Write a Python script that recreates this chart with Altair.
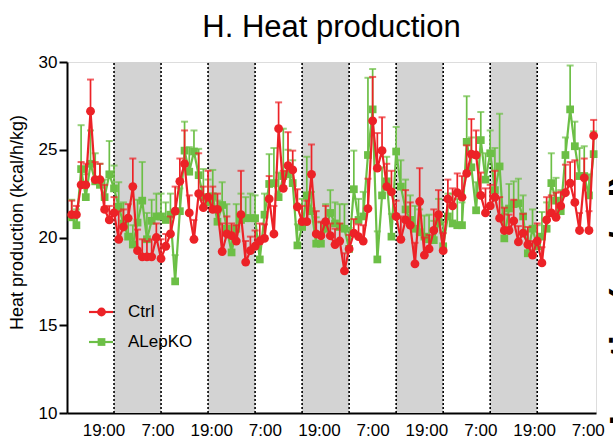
import json
import altair as alt
import pandas as pd

# Sampling interval of the calorimetry readings (hours); first reading at 08:12
step_hours = 1.2

# Heat production (kcal/h/kg): group means and upper SEM, one value per reading
ctrl_mean = [
    21.3, 21.3, 23.0, 23.0, 27.2, 23.3, 23.3, 21.6, 21.0, 21.4,
    19.9, 20.6, 21.1, 22.9, 19.25, 18.9, 18.9, 18.9, 20.0, 18.8,
    19.5, 20.2, 21.5, 23.2, 24.2, 21.4, 19.9, 22.5, 21.7, 22.3,
    21.6, 21.6, 19.2, 20.2, 20.1, 19.8, 21.3, 18.6, 19.25, 19.5,
    19.8, 19.95, 22.2, 20.2, 26.2, 22.8, 24.1, 23.85, 21.75, 20.9,
    20.9, 23.6, 20.2, 20.1, 20.9, 20.1, 19.6, 19.8, 18.1, 19.35,
    20.25, 20.05, 19.8, 21.65, 26.65, 23.95, 24.95, 22.9, 22.6, 21.2,
    19.9, 21.0, 20.7, 18.5, 22.05, 19.0, 19.35, 20.4, 21.3, 19.25,
    22.2, 21.8, 22.55, 22.3, 23.65, 24.75, 24.7, 22.4, 21.4, 21.8,
    22.3, 21.1, 20.4, 20.4, 20.95, 19.75, 20.25, 19.6, 19.0, 19.8,
    18.55, 21.0, 21.4, 21.15, 21.8, 22.55, 23.1, 22.0, 20.4, 23.4,
    20.4, 25.8,
]
ctrl_sem = [
    0.8, 0.5, 1.3, 1.2, 1.8, 1.0, 0.9, 1.4, 0.8, 0.9,
    1.6, 1.0, 0.8, 1.6, 1.2, 1.0, 0.9, 1.0, 0.8, 1.1,
    0.7, 1.0, 1.4, 1.3, 1.9, 1.0, 1.1, 2.3, 1.2, 1.5,
    1.3, 0.9, 1.6, 1.0, 0.7, 0.9, 2.5, 1.2, 0.8, 0.9,
    1.0, 0.8, 1.3, 1.6, 1.5, 1.0, 1.9, 1.1, 1.0, 0.9,
    1.2, 1.7, 1.3, 0.8, 0.9, 0.7, 0.9, 1.0, 1.0, 0.8,
    0.8, 0.7, 0.9, 1.7, 2.5, 2.0, 1.9, 1.3, 1.2, 0.9,
    1.3, 1.7, 1.3, 1.2, 1.9, 1.0, 0.8, 1.2, 1.4, 1.0,
    1.1, 1.0, 1.1, 1.2, 1.6, 2.0, 1.4, 1.3, 1.4, 1.2,
    1.5, 1.2, 1.3, 0.9, 1.2, 0.9, 1.1, 1.0, 0.8, 1.0,
    0.9, 1.3, 1.0, 1.4, 0.8, 1.6, 1.2, 2.4, 1.0, 1.1,
    1.1, 0.9,
]
ko_mean = [
    21.15, 20.7, 23.9, 22.3, 24.2, 23.2, 23.0, 22.3, 23.6, 22.8,
    21.75, 20.8, 20.05, 19.6, 20.85, 22.1, 19.9, 20.95, 21.2, 21.2,
    21.0, 21.3, 17.5, 21.5, 24.95, 23.75, 24.9, 23.55, 22.3, 22.0,
    22.35, 20.9, 21.85, 20.5, 19.15, 20.5, 21.0, 21.1, 21.1, 21.1,
    18.75, 21.3, 23.05, 23.1, 22.3, 23.5, 23.6, 23.1, 19.55, 20.6,
    22.4, 21.5, 19.65, 19.65, 20.5, 21.4, 20.8, 20.6, 20.5, 19.35,
    22.75, 21.0, 21.2, 24.7, 27.3, 18.75, 22.4, 23.2, 20.05, 24.9,
    22.9, 21.6, 21.0, 20.5, 20.3, 20.05, 19.9, 19.85, 20.9, 19.5,
    21.2, 20.8, 20.7, 20.7, 25.45, 24.0, 21.55, 25.55, 23.3, 24.8,
    22.7, 24.05, 19.95, 21.65, 21.9, 21.95, 21.2, 19.1, 20.5, 19.5,
    20.05, 20.5, 23.1, 22.1, 21.5, 24.7, 27.3, 25.2, 23.5, 23.5,
    22.4, 24.75,
]
ko_sem = [
    1.0, 0.9, 2.5, 1.3, 1.9, 1.6, 1.2, 1.0, 1.9, 1.3,
    1.4, 1.2, 1.0, 1.1, 1.3, 2.2, 1.5, 1.2, 1.3, 1.3,
    1.0, 1.2, 1.5, 1.3, 1.65, 1.4, 1.2, 1.5, 1.6, 1.3,
    1.5, 1.2, 1.3, 1.4, 1.1, 1.4, 1.5, 1.2, 1.4, 1.3,
    1.3, 1.2, 1.7, 2.0, 1.4, 2.7, 1.4, 1.3, 1.2, 1.6,
    2.2, 1.1, 1.5, 1.2, 1.4, 1.3, 1.2, 1.3, 1.4, 1.2,
    2.2, 1.2, 1.4, 4.4, 2.3, 1.6, 1.6, 1.4, 1.3, 1.4,
    1.5, 1.7, 1.4, 1.3, 1.3, 1.2, 1.4, 1.1, 1.3, 1.4,
    1.3, 1.7, 1.5, 1.3, 2.6, 1.7, 1.6, 1.6, 1.5, 1.3,
    2.4, 3.0, 1.4, 1.4, 1.3, 1.4, 1.2, 1.3, 1.1, 1.2,
    1.4, 1.5, 1.7, 1.3, 1.2, 1.0, 2.5, 1.4, 1.6, 1.7,
    1.2, 1.3,
]

# Dark phases (hours from 07:00 on day 1)
night_start = [12, 36, 60, 84, 108]
night_end = [24, 48, 72, 96, 120]

# Clock-time labels along the time axis
label_hours = [9.3, 23.1, 36.8, 50.5, 64.3, 78.0, 91.7, 105.5, 119.2, 132.9]
label_text = ["19:00", "7:00", "19:00", "7:00", "19:00",
              "7:00", "19:00", "7:00", "19:00", "7:00"]

groups = ["Ctrl", "ALepKO"]
colors = ["#EC2227", "#6CBF46"]
shapes = ["circle", "square"]
y_ticks = [10, 15, 20, 25, 30]

W, H = 529, 351
FONT = "Liberation Sans"

hours = [round(step_hours * (i + 1), 2) for i in range(len(ctrl_mean))]


def series_frame(mean, sem):
    return pd.DataFrame({
        "hour": hours,
        "mean": mean,
        "upper": [m + s for m, s in zip(mean, sem)],
    })


x_scale = alt.Scale(domain=[0, 135], nice=False, zero=False)
y_scale = alt.Scale(domain=[10, 30], nice=False, zero=False)

label_expr = "{}[indexof({}, datum.value)]".format(
    json.dumps(label_text), json.dumps(label_hours))

x_axis = alt.Axis(
    values=label_hours, labelExpr=label_expr, ticks=False, tickSize=0,
    domainColor="black", domainWidth=2, labelFont=FONT, labelFontSize=17,
    labelColor="black", labelPadding=9, grid=False, labelFlush=False,
    labelOverlap=False,
)
y_axis = alt.Axis(
    values=y_ticks, titleFont=FONT, titleFontSize=18, titleFontWeight="normal",
    titleColor="black", titleY=160, titlePadding=12, labelFont=FONT,
    labelFontSize=17, labelColor="black", labelPadding=2, tickSize=8,
    tickWidth=2, tickColor="black", domainColor="black", domainWidth=2,
    grid=False,
)
Y_TITLE = "Heat production (kcal/h/kg)"


def xe(field):
    return alt.X(field, type="quantitative", scale=x_scale, axis=x_axis, title=None)


def ye(field):
    return alt.Y(field, type="quantitative", scale=y_scale, axis=y_axis, title=Y_TITLE)


# Shaded dark phases with dotted boundaries
bands = pd.DataFrame({"start": night_start, "end": night_end,
                      "lo": [10] * len(night_start), "hi": [30] * len(night_start)})
edges = pd.DataFrame({"edge": night_start + night_end,
                      "lo": [10] * (2 * len(night_start)),
                      "hi": [30] * (2 * len(night_start))})

band_layer = alt.Chart(bands).mark_rect(color="#D3D3D3").encode(
    x=xe("start"), x2="end", y=ye("lo"), y2="hi")
edge_layer = alt.Chart(edges).mark_rule(
    color="black", strokeWidth=1.6, strokeDash=[2, 2]).encode(
    x=xe("edge"), y=ye("lo"), y2="hi")


def series_layers(df, color, shape, size):
    base = alt.Chart(df)
    bar = base.mark_rule(color=color, strokeWidth=1.7).encode(
        x=xe("hour"), y=ye("mean"), y2="upper")
    cap = base.mark_tick(color=color, orient="horizontal", size=7,
                         thickness=2).encode(x=xe("hour"), y=ye("upper"))
    line = base.mark_line(color=color, strokeWidth=2.2).encode(
        x=xe("hour"), y=ye("mean"))
    pts = base.mark_point(color=color, shape=shape, filled=True, size=size,
                          opacity=1).encode(x=xe("hour"), y=ye("mean"))
    return [bar, cap, line, pts]


ko_layers = series_layers(series_frame(ko_mean, ko_sem), colors[1], shapes[1], 60)
ctrl_layers = series_layers(series_frame(ctrl_mean, ctrl_sem), colors[0], shapes[0], 78)

# In-plot legend
legend_layers = []
legend_rows = [250, 280]
sizes = [78, 60]
for name, color, shape, row, sz in zip(groups, colors, shapes, legend_rows, sizes):
    d = alt.Chart(pd.DataFrame({"name": [name]}))
    legend_layers.append(d.mark_rule(color=color, strokeWidth=2.2).encode(
        x=alt.value(22), x2=alt.value(46), y=alt.value(row)))
    legend_layers.append(d.mark_point(color=color, shape=shape, filled=True,
                                      size=sz, opacity=1).encode(
        x=alt.value(34.5), y=alt.value(row)))
    legend_layers.append(d.mark_text(align="left", baseline="middle", font=FONT,
                                     fontSize=17, color="black").encode(
        x=alt.value(61), y=alt.value(row), text="name:N"))

# Axis title of the neighbouring panel, cut by the right edge
side_label = alt.Chart(pd.DataFrame({"t": ["Leptin (ng/ml)"]})).mark_text(
    angle=270, align="center", baseline="top", font=FONT, fontSize=38,
    fontWeight="bold", color="black").encode(
    x=alt.value(540), y=alt.value(238), text="t:N")

chart = alt.layer(
    band_layer, edge_layer, *ko_layers, *ctrl_layers, *legend_layers, side_label
).properties(
    width=W,
    height=H,
    autosize=alt.AutoSizeParams(type="none"),
    padding={"left": 67, "top": 62, "right": 17, "bottom": 32},
    title=alt.TitleParams("H. Heat production", font=FONT, fontSize=31,
                          fontWeight="normal", color="black", anchor="middle",
                          frame="group", offset=9),
).configure_view(strokeWidth=0).configure(background="white")

chart.save("out.html", embed_options={"renderer": "svg", "actions": False})
